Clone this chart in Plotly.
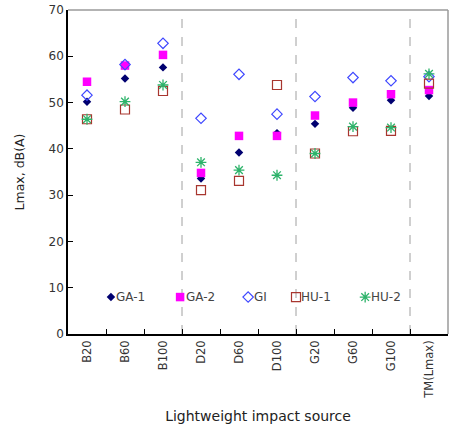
import plotly.graph_objects as go

categories = ["B20", "B60", "B100", "D20", "D60", "D100", "G20", "G60", "G100", "TM(Lmax)"]
ga1 = [50.2, 55.2, 57.6, 33.6, 39.2, 43.4, 45.4, 48.9, 50.5, 51.4]
ga2 = [54.5, 58.0, 60.3, 34.8, 42.8, 42.8, 47.2, 50.0, 51.8, 52.7]
gi = [51.6, 58.2, 62.8, 46.6, 56.1, 47.5, 51.3, 55.4, 54.7, 55.6]
hu1 = [46.4, 48.5, 52.5, 31.1, 33.1, 53.8, 39.0, 43.8, 43.9, 54.1]
hu2 = [46.4, 50.2, 53.8, 37.1, 35.4, 34.3, 39.0, 44.8, 44.6, 56.2]
series_names = ["GA-1", "GA-2", "GI", "HU-1", "HU-2"]
group_breaks = [2.5, 5.5, 8.5]
x_title = "Lightweight impact source"
y_title = "Lmax, dB(A)"

FONT = "DejaVu Sans"
styles = [
    dict(symbol="diamond", size=6.5, color="#000070", line=dict(width=0)),
    dict(symbol="square", size=8.5, color="#FF00FF", line=dict(width=0)),
    dict(symbol="diamond-open", size=8, color="#3F48FF", line=dict(width=1.2, color="#3F48FF")),
    dict(symbol="square-open", size=9, color="#A8362F", line=dict(width=1.2, color="#A8362F")),
    dict(symbol="asterisk-open", size=9, color="#2DB36A", line=dict(width=1.3, color="#2DB36A")),
]

fig = go.Figure()
for name, vals, st in zip(series_names, [ga1, ga2, gi, hu1, hu2], styles):
    fig.add_trace(go.Scatter(x=categories, y=vals, mode="markers", name=name,
                             marker=st, showlegend=False, cliponaxis=False))

# manual legend on an overlay axis (paper-like 0..1 coordinates)
leg_x = [0.113, 0.295, 0.474, 0.600, 0.782]
leg_y = 0.114
for name, st, lx in zip(series_names, styles, leg_x):
    fig.add_trace(go.Scatter(x=[lx], y=[leg_y], mode="markers", marker=st,
                             xaxis="x2", yaxis="y2", showlegend=False, hoverinfo="skip"))
    fig.add_annotation(x=lx + 0.009, y=leg_y, xref="x2", yref="y2", text=name,
                       showarrow=False, xanchor="left", yanchor="middle",
                       font=dict(family=FONT, size=12, color="#444444"))

shapes = []
for b in group_breaks:
    shapes.append(dict(type="line", xref="x", yref="y", x0=b, x1=b, y0=0, y1=68.7,
                       line=dict(color="#A0A0A0", width=1, dash="dash"), layer="below"))
# white legend background covering dashed lines
shapes.append(dict(type="rect", xref="paper", yref="paper", x0=0.084, x1=0.915, y0=0.043, y1=0.182,
                   fillcolor="white", line=dict(width=0), layer="below"))
# top and right frame in gray
shapes.append(dict(type="line", xref="paper", yref="paper", x0=0, x1=1, y0=1, y1=1,
                   line=dict(color="#9A9A9A", width=1.5)))
shapes.append(dict(type="line", xref="paper", yref="paper", x0=1, x1=1, y0=0, y1=1,
                   line=dict(color="#9A9A9A", width=1.5)))

fig.update_layout(
    width=451, height=432,
    margin=dict(l=68, r=3, t=10, b=98, autoexpand=False),
    paper_bgcolor="white", plot_bgcolor="white",
    font=dict(family=FONT, color="#333333"),
    shapes=shapes,
    showlegend=False,
    xaxis=dict(type="category", categoryorder="array", categoryarray=categories,
               range=[-0.5, 9.5], tickson="boundaries", ticks="inside", ticklen=5,
               tickcolor="black", tickwidth=1, tickangle=-90, automargin=False,
               tickfont=dict(family=FONT, size=11.5, color="#333333"),
               showline=True, linecolor="black", linewidth=1.5, showgrid=False,
               title=dict(text=x_title, font=dict(family=FONT, size=14, color="#222222"), standoff=13)),
    yaxis=dict(range=[0, 70], dtick=10, ticks="inside", ticklen=5, tickcolor="black",
               automargin=False,
               tickfont=dict(family=FONT, size=12, color="#333333"),
               showline=True, linecolor="black", linewidth=1.5, showgrid=False, zeroline=False,
               title=dict(text=y_title, font=dict(family=FONT, size=12.5, color="#222222"), standoff=21)),
    xaxis2=dict(overlaying="x", range=[0, 1], visible=False),
    yaxis2=dict(overlaying="y", range=[0, 1], visible=False),
)

fig.write_html("out.html", config={"displayModeBar": False},
               post_script="document.body.style.margin='0px';")
